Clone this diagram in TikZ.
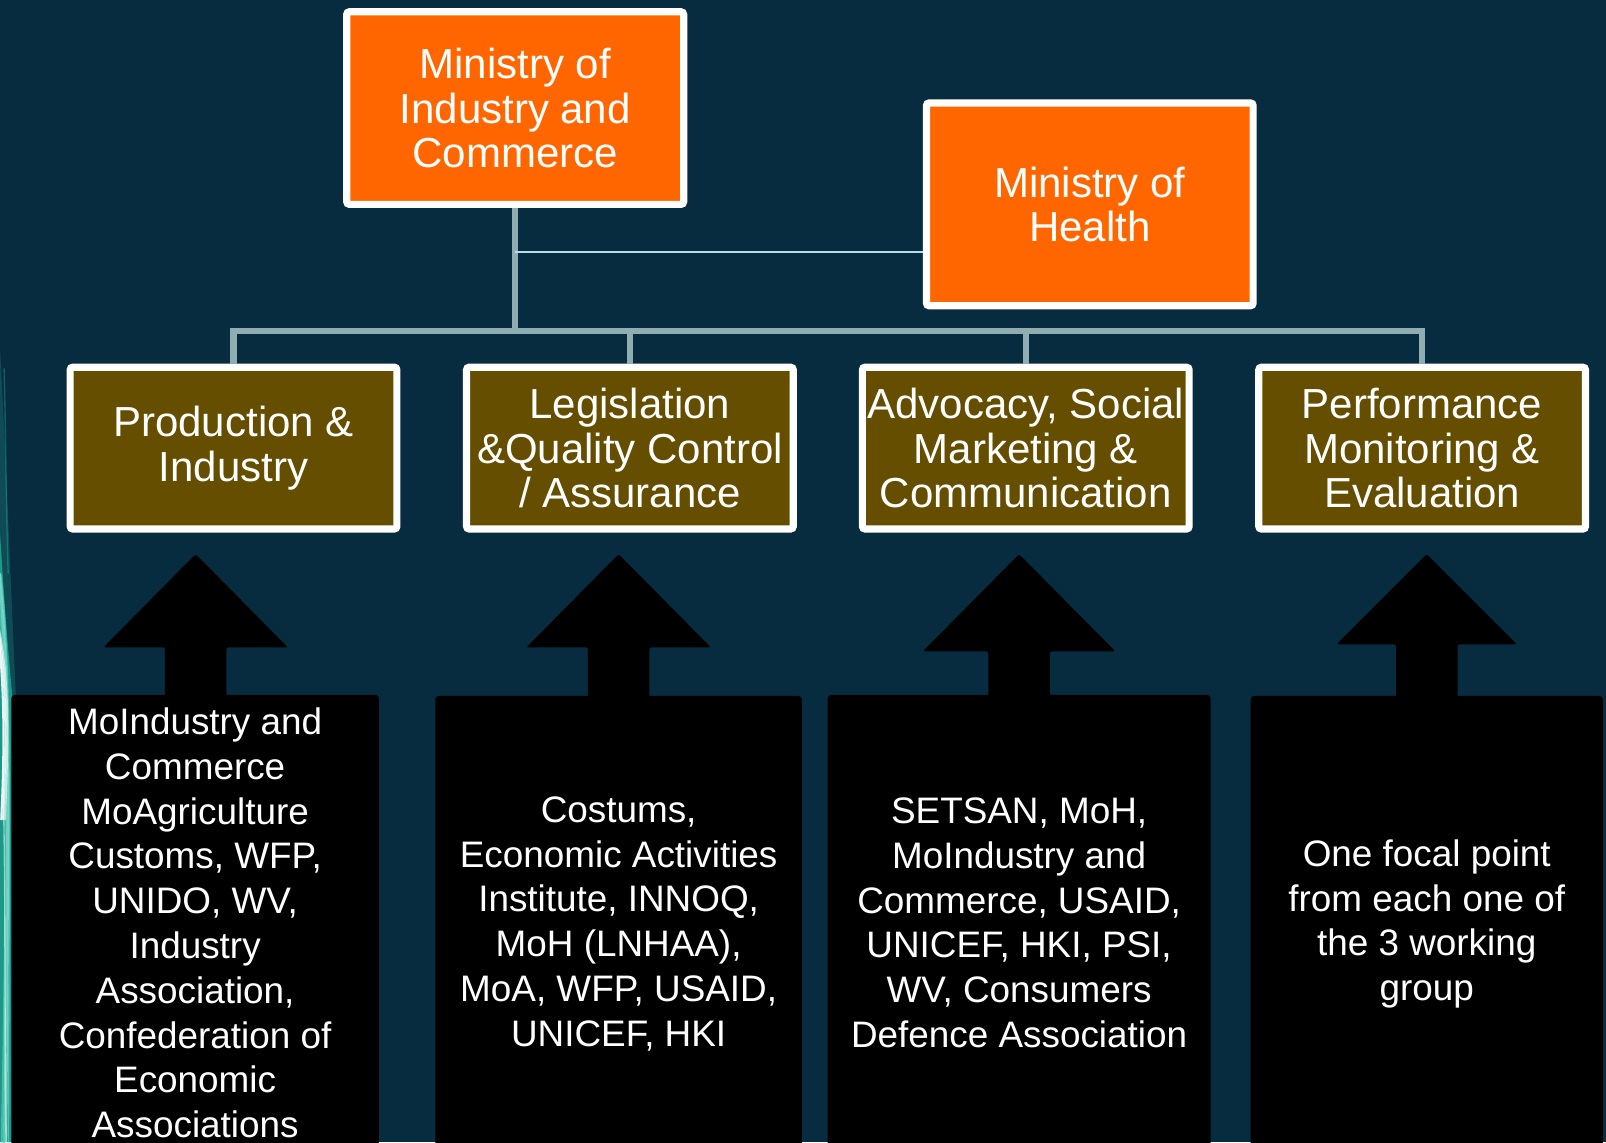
\documentclass[tikz,border=0pt]{standalone}
\usepackage{fontspec}
\setmainfont{Liberation Sans}
\usetikzlibrary{calc}
\definecolor{bg}{RGB}{8,44,63}
\definecolor{orng}{RGB}{255,102,0}
\definecolor{olive}{RGB}{101,78,0}
\definecolor{connc}{RGB}{143,172,176}
\definecolor{thinc}{RGB}{184,224,228}
\definecolor{glowc}{RGB}{32,170,150}
\definecolor{glowl}{RGB}{120,220,205}
\begin{document}
\begin{tikzpicture}[x=0.75pt,y=-0.75pt,
  topbox/.style={draw=white, line width=5.25pt, fill=orng, rounded corners=2pt,
    text=white, align=center, inner sep=0pt,
    font=\fontsize{30.75}{32.5}\selectfont},
  midbox/.style={draw=white, line width=5.25pt, fill=olive, rounded corners=2pt,
    text=white, align=center, inner sep=0pt,
    minimum width=239.25pt, minimum height=118.5pt,
    font=\fontsize{30.75}{32.5}\selectfont},
  partbox/.style={fill=black, rounded corners=2.5pt, text=white, align=center,
    inner sep=0pt, minimum height=333.75pt,
    font=\fontsize{27}{32.8}\selectfont},
  conn/.style={draw=connc, line width=4.5pt},
  thinconn/.style={draw=thinc, line width=1.5pt},
  uparrow/.style={fill=black, rounded corners=1.5pt},
  glow/.style={line cap=round}
]
\useasboundingbox (0,0) rectangle (1568,1115);
\begin{scope}
\clip (0,0) rectangle (1568,1115);
\fill[bg] (0,0) rectangle (1568,1115);

% left-edge glow
\fill[glowc, opacity=0.25] (0,340) .. controls (6,450) and (10,560) .. (16,690)
  -- (14,1115) -- (0,1115) -- cycle;
\fill[glowc, opacity=0.8] (0,520) .. controls (5,600) and (9,650) .. (14,700)
  -- (12,1115) -- (0,1115) -- cycle;
\foreach \dx/\op/\w in {0/0.5/2, 3/0.7/1.5, 6/0.9/1.2, 9/0.6/1}{
  \draw[glow, draw=glowl, opacity=\op, line width=\w]
    (-2+\dx*0.3,560) .. controls (6+\dx*0.6,660) and (9,760) .. (2+\dx*0.7,1120);
}
\foreach \dx/\op in {2/0.9, 5/0.8, 8/0.6}{
  \draw[glow, draw=white, opacity=\op, line width=1.5]
    (-4,600) .. controls (2+\dx,660) and (4+\dx*0.5,720) .. (\dx*0.6,800);
}
\draw[glow, draw=white, opacity=0.5, line width=1]
  (3,760) .. controls (6,900) and (4,1000) .. (6,1120);
\draw[glow, draw=glowc, opacity=0.4, line width=1]
  (4,360) .. controls (6,440) and (6,500) .. (8,560);

% top boxes
\node[topbox, minimum width=246.75pt, minimum height=141pt] (mic) at (503,105.5)
  {Ministry of\\Industry and\\Commerce};
\node[topbox, minimum width=239.25pt, minimum height=148.5pt] (moh) at (1064,199.5)
  {Ministry of\\Health};

% second level boxes
\node[midbox] (b1) at (228,437.5) {Production \&\\Industry};
\node[midbox] (b2) at (615,437.5) {Legislation\\\&Quality Control\\/ Assurance};
\node[midbox] (b3) at (1001.5,437.5) {Advocacy, Social\\Marketing \&\\Communication};
\node[midbox] (b4) at (1388.5,437.5) {Performance\\Monitoring \&\\Evaluation};

% connectors
\coordinate (j) at (503,323);
\coordinate (k) at (503,246);
\draw[conn] (b1.north) |- (j) -| (b4.north);
\draw[conn] (b2.north) -- (b2.north |- j);
\draw[conn] (b3.north) -- (b3.north |- j);
\draw[conn] (mic.south) -- (j);
\draw[thinconn] (k) -- (k -| moh.west);

% up arrows
\foreach \c/\h/\b in {191/90/632, 604/90/632, 995/94/636, 1393/88/629}{
  \fill[uparrow] (\c,541) -- (\c+\h,\b) -- (\c+30,\b) -- (\c+30,690)
    -- (\c-30,690) -- (\c-30,\b) -- (\c-\h,\b) -- cycle;
}

% bottom participant boxes
\node[partbox, minimum width=269.25pt] (p1) at (190.5,901)
  {MoIndustry and\\Commerce\\MoAgriculture\\Customs, WFP,\\UNIDO, WV,\\Industry\\Association,\\Confederation of\\Economic\\Associations};
\node[partbox, minimum width=268.5pt] (p2) at (604,902)
  {Costums,\\Economic Activities\\Institute, INNOQ,\\MoH (LNHAA),\\MoA, WFP, USAID,\\UNICEF, HKI};
\node[partbox, minimum width=280.5pt] (p3) at (995,901)
  {SETSAN, MoH,\\MoIndustry and\\Commerce, USAID,\\UNICEF, HKI, PSI,\\WV, Consumers\\Defence Association};
\node[partbox, minimum width=258pt] (p4) at (1393,902)
  {One focal point\\from each one of\\the 3 working\\group};
\end{scope}
\end{tikzpicture}
\end{document}
